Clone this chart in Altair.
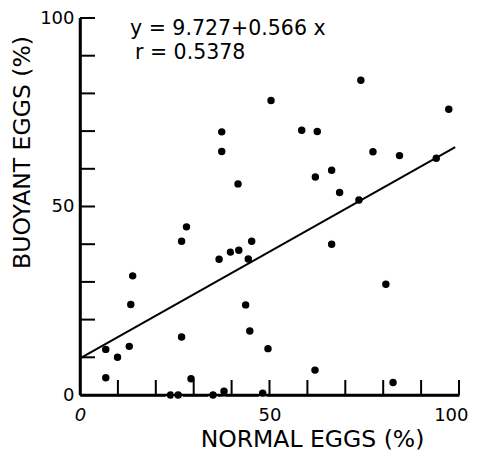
import altair as alt
import pandas as pd

# Data
normal_eggs = [37.4, 37.4, 41.7, 28.1, 50.4, 74.1, 97.3, 58.5, 62.6, 77.3, 84.3,
               94.0, 66.4, 62.1, 68.5, 73.6, 26.8, 45.3, 39.7, 41.9, 36.7, 44.4,
               13.9, 13.4, 43.7, 44.8, 26.8, 6.8, 13.0, 9.9, 6.8, 29.3, 23.9,
               25.9, 35.1, 38.0, 48.2, 49.6, 66.4, 80.7, 62.0, 82.6]
buoyant_eggs = [69.8, 64.6, 56.0, 44.6, 78.1, 83.5, 75.8, 70.2, 69.9, 64.5, 63.5,
                62.8, 59.6, 57.8, 53.7, 51.7, 40.8, 40.8, 37.9, 38.4, 36.0, 36.1,
                31.6, 24.0, 23.9, 17.0, 15.4, 12.1, 12.9, 10.0, 4.6, 4.3, 0.0,
                0.0, 0.0, 1.0, 0.5, 12.3, 40.0, 29.4, 6.6, 3.3]

intercept = 9.727
slope = 0.566
fit_range = [0, 99]

axis_domain = [0, 100]
label_values = [0, 50, 100]
tick_values = list(range(10, 101, 10))

eq_text = "y = 9.727+0.566 x"
r_text = "r = 0.5378"

W = 379
H = 377
FONT = "DejaVu Sans"

pts = pd.DataFrame({"normal": normal_eggs, "buoyant": buoyant_eggs})
fit = pd.DataFrame({"normal": fit_range,
                    "buoyant": [intercept + slope * v for v in fit_range]})
ann = pd.DataFrame({"normal": [13.2, 14.5], "buoyant": [95.6, 89.2],
                    "t": [eq_text, r_text]})
ticks_df = pd.DataFrame({"v": tick_values, "base": [axis_domain[0]] * len(tick_values)})
frame = pd.DataFrame({"x0": [axis_domain[0], axis_domain[0]],
                      "x1": [axis_domain[1], axis_domain[0]],
                      "y0": [axis_domain[0], axis_domain[0]],
                      "y1": [axis_domain[0], axis_domain[1]]})

xscale = alt.Scale(domain=axis_domain, nice=False, zero=False)
yscale = alt.Scale(domain=axis_domain, nice=False, zero=False)

x_axis = alt.Axis(
    orient="bottom", values=label_values, ticks=False, tickSize=0, grid=False,
    domain=True, domainColor="black", domainWidth=2.5,
    labelFont=FONT, labelFontSize=18, labelColor="black", labelPadding=11,
    labelFlush=False,
    labelFontStyle={"condition": {"test": "datum.value === 0", "value": "italic"},
                    "value": "normal"},
    labelAlign={"condition": {"test": "datum.value === 100", "value": "right"},
                "value": "center"},
    labelOffset={"condition": {"test": "datum.value === 100", "value": 9},
                 "value": 0},
    title="NORMAL EGGS (%)", titleFont=FONT, titleFontSize=23.5,
    titleFontWeight="normal", titleColor="black",
    titleX=232, titleY=51, titleAlign="center", titleBaseline="alphabetic")

y_axis = alt.Axis(
    orient="left", values=label_values, ticks=False, tickSize=0, grid=False,
    domain=True, domainColor="black", domainWidth=2.5,
    labelFont=FONT, labelFontSize=18, labelColor="black", labelPadding=6,
    title="BUOYANT EGGS (%)", titleFont=FONT, titleFontSize=23.5,
    titleFontWeight="normal", titleColor="black",
    titleAngle=270, titleX=-51, titleY=134, titleAlign="center",
    titleBaseline="alphabetic")

points = alt.Chart(pts).mark_circle(
    fill="black", stroke="white", strokeWidth=1.5, size=80, opacity=1, fillOpacity=1
).encode(
    x=alt.X("normal:Q", scale=xscale, axis=x_axis, title="NORMAL EGGS (%)"),
    y=alt.Y("buoyant:Q", scale=yscale, axis=y_axis, title="BUOYANT EGGS (%)"),
)

line = alt.Chart(fit).mark_line(color="black", strokeWidth=2).encode(
    x=alt.X("normal:Q", scale=xscale, axis=x_axis, title="NORMAL EGGS (%)"),
    y=alt.Y("buoyant:Q", scale=yscale, axis=y_axis, title="BUOYANT EGGS (%)"),
)

axes_lines = alt.Chart(frame).mark_rule(color="black", strokeWidth=2.5).encode(
    x=alt.X("x0:Q", scale=xscale, axis=x_axis, title="NORMAL EGGS (%)"),
    x2="x1:Q",
    y=alt.Y("y0:Q", scale=yscale, axis=y_axis, title="BUOYANT EGGS (%)"),
    y2="y1:Q",
)

x_ticks = alt.Chart(ticks_df).mark_tick(
    orient="vertical", color="black", thickness=2, size=15, yOffset=-7.5, opacity=1
).encode(
    x=alt.X("v:Q", scale=xscale, axis=x_axis, title="NORMAL EGGS (%)"),
    y=alt.Y("base:Q", scale=yscale, axis=y_axis, title="BUOYANT EGGS (%)"),
)

y_ticks = alt.Chart(ticks_df).mark_tick(
    orient="horizontal", color="black", thickness=2, size=15, xOffset=7.5, opacity=1
).encode(
    x=alt.X("base:Q", scale=xscale, axis=x_axis, title="NORMAL EGGS (%)"),
    y=alt.Y("v:Q", scale=yscale, axis=y_axis, title="BUOYANT EGGS (%)"),
)

text = alt.Chart(ann).mark_text(
    font=FONT, fontSize=20.5, align="left", baseline="alphabetic", color="black"
).encode(
    x=alt.X("normal:Q", scale=xscale, axis=x_axis, title="NORMAL EGGS (%)"),
    y=alt.Y("buoyant:Q", scale=yscale, axis=y_axis, title="BUOYANT EGGS (%)"),
    text="t:N",
)

chart = alt.layer(points, line, axes_lines, x_ticks, y_ticks, text).properties(
    width=W, height=H,
    autosize=alt.AutoSizeParams(type="none"),
    padding={"left": 72, "top": 10, "right": 10, "bottom": 56},
).configure_view(stroke=None)

chart.save("out.html", embed_options={"renderer": "svg", "actions": False})
